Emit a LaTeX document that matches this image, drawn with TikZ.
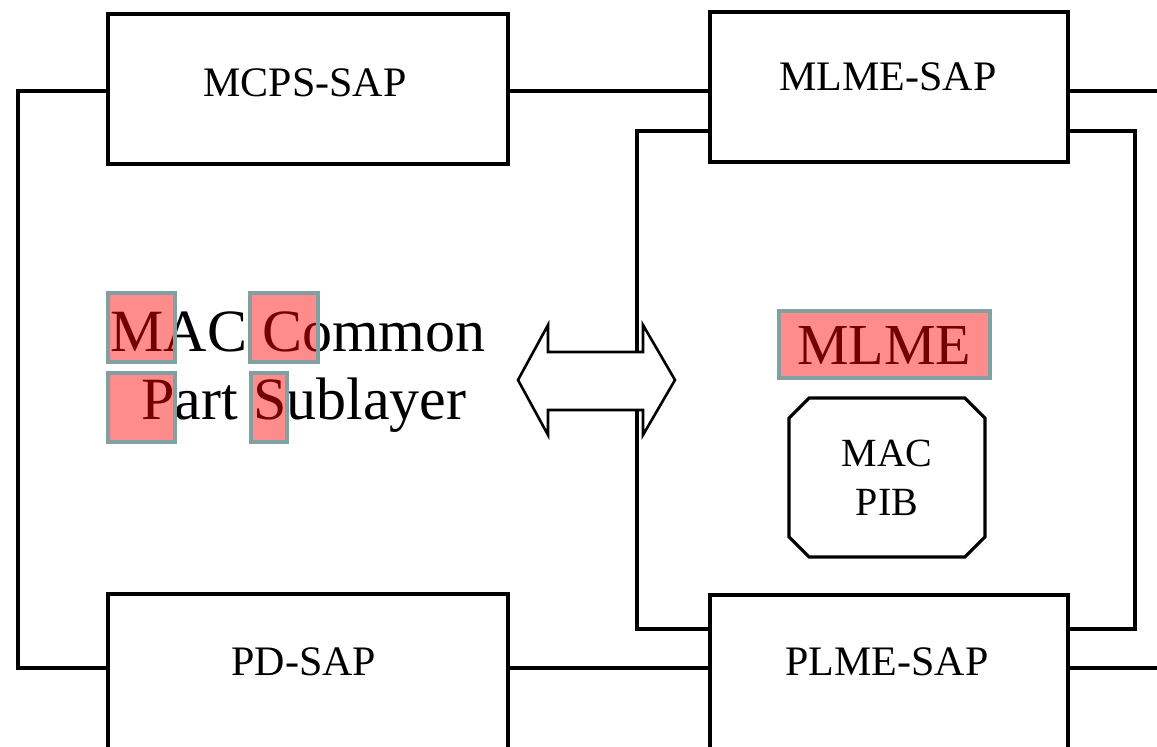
\documentclass[tikz,border=0pt]{standalone}
\usepackage{fontspec}
\setmainfont{Liberation Serif}
\usetikzlibrary{shapes.misc}
\definecolor{hlborder}{RGB}{130,160,160}
\begin{document}
\begin{tikzpicture}[x=0.5pt,y=-0.5pt,
  sapbox/.style={draw, line width=1.6pt, rectangle, inner sep=0pt, fill=white},
  conn/.style={line width=1.6pt},
  lbl/.style={font=\fontsize{21}{25}\selectfont, inner sep=0pt, anchor=base},
  big/.style={font=\fontsize{30}{36}\selectfont, inner sep=0pt, anchor=base west},
  hl/.style={draw=hlborder, line width=2pt, fill=red, fill opacity=0.45}
]
\useasboundingbox[fill=white] (0,0) rectangle (1157,747);

% SAP boxes
\node[sapbox, minimum width=200pt, minimum height=75pt] (mcps) at (308,89) {};
\node[sapbox, minimum width=179pt, minimum height=75pt] (mlme) at (889,87) {};
\node[sapbox, minimum width=200pt, minimum height=83pt] (pd) at (308,677) {};
\node[sapbox, minimum width=179pt, minimum height=82.5pt] (plme) at (889,677.5) {};

\node[lbl] (mcpst) at (305,97) {MCPS-SAP};
\node[lbl] (mlmest) at (888,91) {MLME-SAP};
\node[lbl] (pdt) at (304,676) {PD-SAP};
\node[lbl] (plmet) at (887,676) {PLME-SAP};

% connectors
\coordinate (lt) at (18,91);
\coordinate (lb) at (18,668);
\coordinate (rt) at (1160,91);
\coordinate (rb) at (1160,668);
\coordinate (it) at (637,131);
\coordinate (ib) at (637,629);
\coordinate (jt) at (1135,131);
\coordinate (jb) at (1135,629);

\draw[conn] ([yshift=-1pt]mcps.west) -- (lt) -- (lb) -- ([yshift=4.5pt]pd.west);
\draw[conn] ([yshift=-1pt]mcps.east) -- ([yshift=-2pt]mlme.west);
\draw[conn] ([yshift=-2pt]mlme.east) -- (rt);
\draw[conn] ([yshift=-22pt]mlme.west) -- (it) -- (ib) -- ([yshift=24.25pt]plme.west);
\draw[conn] ([yshift=-22pt]mlme.east) -- (jt) -- (jb) -- ([yshift=24.25pt]plme.east);
\draw[conn] ([yshift=4.5pt]pd.east) -- ([yshift=4.75pt]plme.west);
\draw[conn] ([yshift=4.75pt]plme.east) -- (rb);

% double arrow
\draw[line width=1.3pt, fill=white, line join=miter]
  (518,380) -- (548,325) -- (548,352) -- (643,352) -- (643,325) -- (675,380)
  -- (643,435) -- (643,410) -- (548,410) -- (548,435) -- cycle;

% MAC Common Part Sublayer
\node[big] (mc1) at (110,352) {MAC Common};
\node[big] (mc2) at (141,420) {Part Sublayer};

% MLME
\node[font=\fontsize{29}{34}\selectfont, inner sep=0pt, anchor=base] (mlmet) at (884,365) {MLME};

% MAC PIB
\node[draw, line width=1.6pt, chamfered rectangle, chamfered rectangle xsep=7pt,
  minimum width=98pt, minimum height=79.5pt, align=center,
  font=\fontsize{20}{24.5}\selectfont, inner sep=0pt] (pib) at (887,477.5) {MAC\\PIB};

% highlights
\draw[hl] (108,293) rectangle (175,362);
\draw[hl] (250,293) rectangle (318,362);
\draw[hl] (108,373) rectangle (175,442);
\draw[hl] (251,373) rectangle (287,442);
\draw[hl] (779,311) rectangle (990,378);
\end{tikzpicture}
\end{document}
